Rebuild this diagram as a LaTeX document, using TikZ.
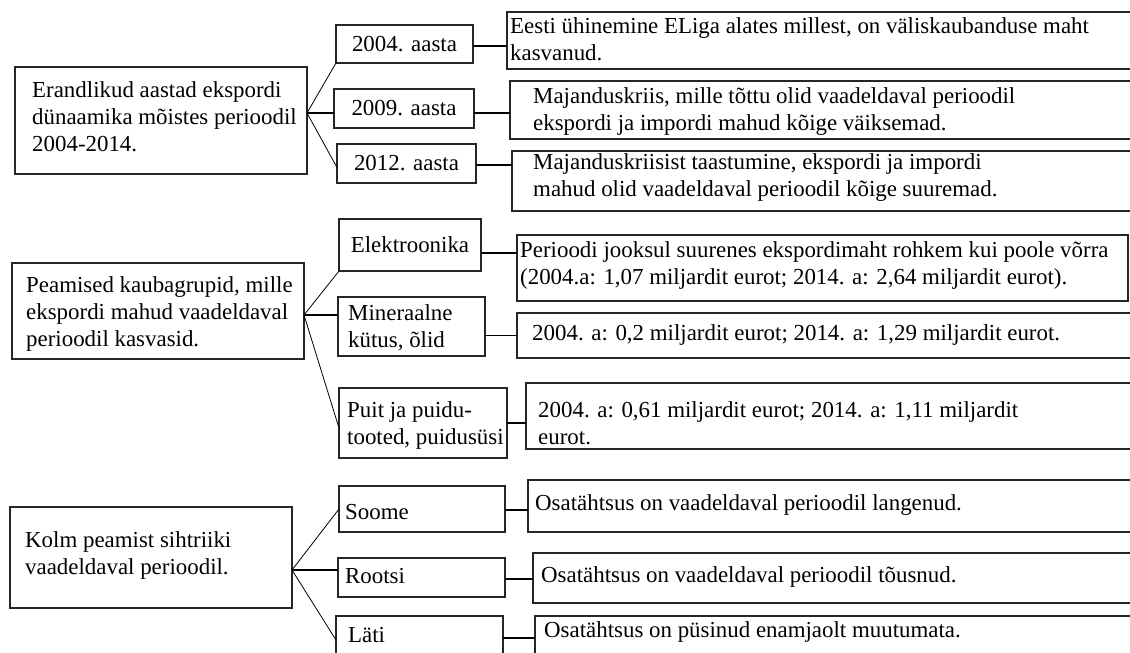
\documentclass[tikz,border=0pt]{standalone}
\usepackage{fontspec}
\setmainfont{Liberation Serif}
\newcommand{\fs}{\fontsize{22.9}{27}\selectfont}
\tikzset{
  box/.style={draw=black!85, line width=1.3pt, inner sep=0pt, outer sep=0pt, anchor=north west, font=\fs},
  txt/.style={inner sep=0pt, align=left, anchor=west, font=\fs},
  conn/.style={line width=1.1pt},
  diag/.style={line width=0.8pt},
}
\begin{document}
\begin{tikzpicture}[x=1pt, y=-1pt]
\clip (0,0) rectangle (1130,653);
\fill[white] (0,0) rectangle (1130,653);

% ---------- group 1
\node[box, minimum width=292pt, minimum height=107pt] (a1) at (15,67) {};
\node[txt] (a1t) at (32,117) {Erandlikud aastad ekspordi\\dünaamika mõistes perioodil\\2004-2014.};
\node[box, minimum width=137pt, minimum height=38pt] (y2004) at (336,25) {2004. aasta};
\node[box, minimum width=140pt, minimum height=39pt] (y2009) at (334,89) {2009. aasta};
\node[box, minimum width=139pt, minimum height=39pt] (y2012) at (337,144) {2012. aasta};
\node[box, minimum width=633pt, minimum height=57pt] (r1) at (507,12) {};
\node[txt] (r1t) at (510,39) {Eesti ühinemine ELiga alates millest, on väliskaubanduse maht\\kasvanud.};
\node[box, minimum width=630pt, minimum height=58pt] (r2) at (510,81) {};
\node[txt] (r2t) at (533,112) {Majanduskriis, mille tõttu olid vaadeldaval perioodil\\ekspordi ja impordi mahud kõige väiksemad.};
\node[box, minimum width=628pt, minimum height=60pt] (r3) at (512,151) {};
\node[txt] (r3t) at (533,178) {Majanduskriisist taastumine, ekspordi ja impordi\\mahud olid vaadeldaval perioodil kõige suuremad.};

\coordinate (h1) at (307,113);
\draw[diag] (h1) -- (y2004.south west);
\draw[conn] (h1) -- (h1 -| y2009.west);
\draw[diag] (h1) -- ([yshift=-4pt]y2012.west);
\draw[conn] ([yshift=-2pt]y2004.east) -- ([yshift=-2pt]y2004.east -| r1.west);
\draw[conn] (y2009.east |- h1) -- (h1 -| r2.west);
\draw[conn] ([yshift=-1.5pt]y2012.east) -- ([yshift=-1.5pt]y2012.east -| r3.west);

% ---------- group 2
\node[box, minimum width=292pt, minimum height=96pt] (a2) at (12,263) {};
\node[txt] (a2t) at (26,314) {Peamised kaubagrupid, mille\\ekspordi mahud vaadeldaval\\perioodil kasvasid.};
\node[box, minimum width=142pt, minimum height=52pt] (elek) at (339,219) {Elektroonika};
\node[box, minimum width=147pt, minimum height=59pt] (mine) at (338,297) {};
\node[txt] (minet) at (348,328) {Mineraalne\\kütus, õlid};
\node[box, minimum width=168pt, minimum height=70pt] (puit) at (339,388) {};
\node[txt] (puitt) at (347,425) {Puit ja puidu-\\tooted, puidusüsi};
\node[box, minimum width=611pt, minimum height=66pt] (edet) at (517,235) {};
\node[txt] (edett) at (520,265) {Perioodi jooksul suurenes ekspordimaht rohkem kui poole võrra\\(2004.a: 1,07 miljardit eurot; 2014. a: 2,64 miljardit eurot).};
\node[box, minimum width=623pt, minimum height=45pt] (mdet) at (517,313) {};
\node[txt] (mdett) at (532,335) {2004. a: 0,2 miljardit eurot; 2014. a: 1,29 miljardit eurot.};
\node[box, minimum width=614pt, minimum height=66pt] (pdet) at (526,383) {};
\node[txt] (pdett) at (538,423) {2004. a: 0,61 miljardit eurot; 2014. a: 1,11 miljardit\\eurot.};

\coordinate (h2) at (304,315);
\draw[diag] (h2) -- (elek.south west);
\draw[conn] (h2) -- (h2 -| mine.west);
\draw[diag] (h2) -- ([yshift=-5pt]puit.west);
\draw[conn] ([yshift=-8pt]elek.east) -- ([yshift=-8pt]elek.east -| edet.west);
\draw[conn] (mine.east |- mdet.west) -- (mdet.west);
\draw[conn] (puit.east) -- (puit.east -| pdet.west);

% ---------- group 3
\node[box, minimum width=282pt, minimum height=101pt] (a3) at (10,507) {};
\node[txt] (a3t) at (25,555) {Kolm peamist sihtriiki\\vaadeldaval perioodil.};
\node[box, minimum width=166pt, minimum height=46pt] (soome) at (339,486) {};
\node[txt] (soomet) at (345,512) {Soome};
\node[box, minimum width=167pt, minimum height=39pt] (rootsi) at (338,558) {};
\node[txt] (rootsit) at (345,576) {Rootsi};
\node[box, minimum width=167pt, minimum height=60pt] (lati) at (336,616) {};
\node[txt] (latit) at (348,635) {Läti};
\node[box, minimum width=612pt, minimum height=52pt] (sdet) at (528,480) {};
\node[txt] (sdett) at (535,505) {Osatähtsus on vaadeldaval perioodil langenud.};
\node[box, minimum width=607pt, minimum height=50pt] (rdet) at (533,553) {};
\node[txt] (rdett) at (541,577) {Osatähtsus on vaadeldaval perioodil tõusnud.};
\node[box, minimum width=605pt, minimum height=60pt] (ldet) at (535,616) {};
\node[txt] (ldett) at (544,632) {Osatähtsus on püsinud enamjaolt muutumata.};

\coordinate (h3) at (292,570);
\draw[diag] (h3) -- (soome.west);
\draw[conn] (h3) -- (h3 -| rootsi.west);
\draw[diag] (h3) -- ([yshift=6pt]lati.west);
\draw[conn] ([yshift=-1pt]soome.east) -- ([yshift=-1pt]soome.east -| sdet.west);
\draw[conn] ([yshift=-1.5pt]rootsi.east) -- ([yshift=-1.5pt]rootsi.east -| rdet.west);
\draw[conn] ([yshift=8pt]lati.east) -- ([yshift=8pt]lati.east -| ldet.west);
\end{tikzpicture}
\end{document}
